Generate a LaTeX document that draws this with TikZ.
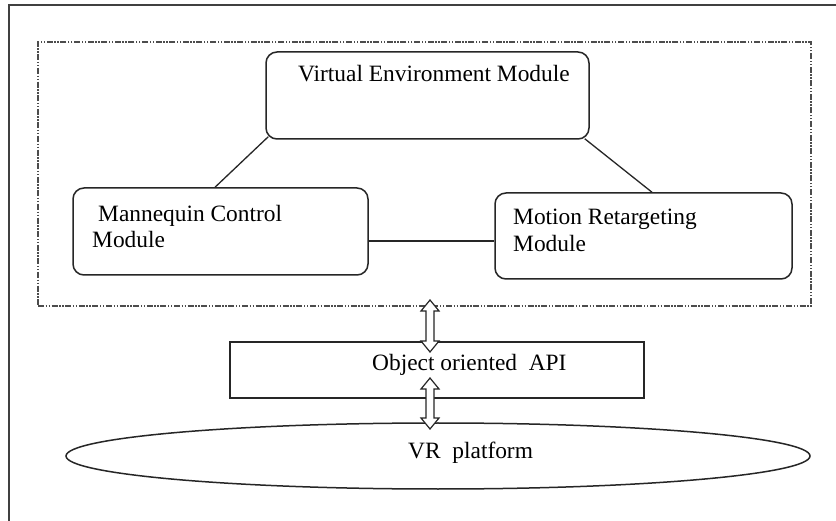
\documentclass[tikz,border=0pt]{standalone}
\usepackage{fontspec}
\setmainfont{Liberation Serif}
\usetikzlibrary{calc,shapes.geometric}

\tikzset{
  ink/.style={draw=black!85, line width=1.5pt},
  modbox/.style={ink, rounded corners=11pt, inner sep=0pt, rectangle},
  plainbox/.style={ink, inner sep=0pt, rectangle},
  txt/.style={anchor=base west, inner sep=0pt, font=\fontsize{23.4}{26}\selectfont, text=black},
  wire/.style={draw=black!85, line width=1.3pt},
  groupframe/.style={draw=black!70, line width=1.3pt,
    dash pattern=on 6pt off 1.6pt on 1.4pt off 1.6pt on 1.4pt off 1.6pt},
  fatarrow/.style={draw=black!85, fill=white, line width=1.2pt, line join=miter},
}

\begin{document}
\begin{tikzpicture}[x=1pt, y=-1pt]
  \useasboundingbox (0,0) rectangle (836,521);
  \fill[white] (0,0) rectangle (836,521);

  % page frame (top and left edges)
  \draw[black!75, line width=1.5pt] (9,521) -- (9,5) -- (836,5);

  % grouping of the three modules
  \node[groupframe, rectangle, inner sep=0pt, minimum width=773pt, minimum height=264pt]
    (group) at (424.5,174) {};

  % modules
  \node[modbox, minimum width=323pt, minimum height=87pt] (ve) at (427.5,95.5) {};
  \node[modbox, minimum width=295pt, minimum height=87pt] (mann) at (220.5,231.5) {};
  \node[modbox, minimum width=297pt, minimum height=86pt] (motion) at (643.5,236) {};

  \node[txt] (vetext) at (298,82) {Virtual Environment Module};
  \node[txt] (manntext1) at (98,222) {Mannequin Control};
  \node[txt] (manntext2) at (92,248) {Module};
  \node[txt] (motiontext1) at (513,225) {Motion Retargeting};
  \node[txt] (motiontext2) at (513,252) {Module};

  % links between modules
  \draw[wire] ($(ve.south west)+(3,-3)$) -- ($(mann.north)+(-5.5,0)$);
  \draw[wire] ($(ve.south east)+(-5,-1)$) -- ($(motion.north)+(8.5,0)$);
  \coordinate (mlink) at ($(mann.east)+(0,9.5)$);
  \draw[wire] (mlink) -- (mlink -| motion.west);

  % API layer
  \node[plainbox, minimum width=414pt, minimum height=56pt] (api) at (437,370) {};
  \node[txt] (apitext) at (372,371) {Object oriented\ \ API};

  % platform
  \node[ellipse, ink, inner sep=0pt, minimum width=744pt, minimum height=66pt]
    (vr) at (438,456) {};
  \node[txt] (vrtext) at (408,458) {VR\ \ platform};

  % two-way arrows between the layers
  \coordinate (a1t) at (430,300);
  \coordinate (a1b) at (430,352);
  \coordinate (a2t) at (430,378);
  \coordinate (a2b) at (430,429);
  \foreach \t/\b in {a1t/a1b, a2t/a2b}{
    \draw[fatarrow] (\t) -- ++(9,11) -- ++(-5,0) -- ($(\b)+(4,-11)$) -- ++(5,0)
      -- (\b) -- ++(-9,-11) -- ++(5,0) -- ($(\t)+(-4,11)$) -- ++(-5,0) -- cycle;
  }
\end{tikzpicture}
\end{document}
